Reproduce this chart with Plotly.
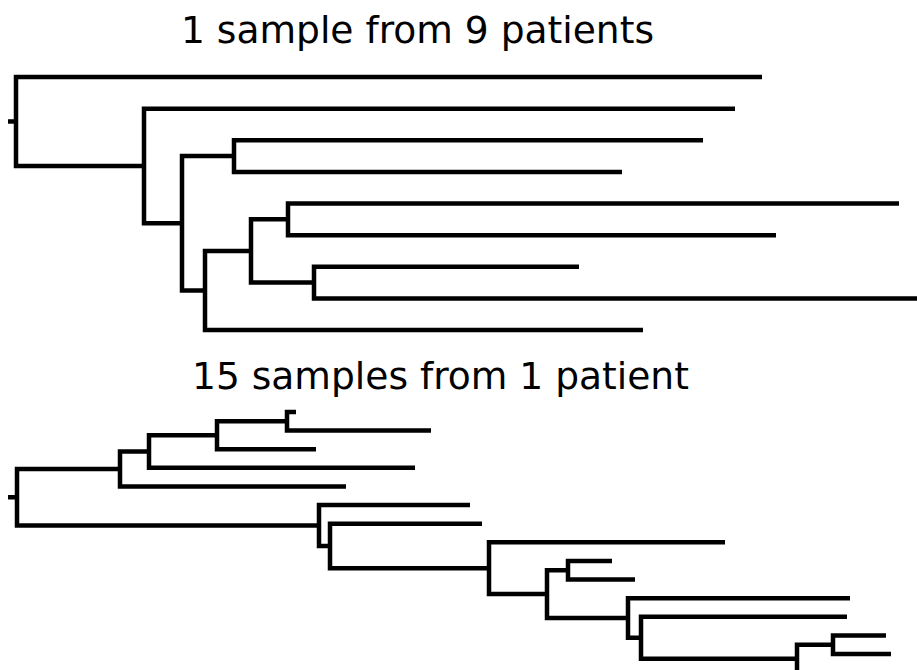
import plotly.graph_objects as go

W, H = 917, 670

# ---- Tree 1: one sample from each of 9 patients (preorder; parent index, branch length)
top_names = ["root", "A", "n1", "B", "n2", "n3", "C", "D", "n4", "n5", "n6", "E", "F", "n7", "G", "H", "I"]
top_parent = [-1, 0, 0, 2, 2, 4, 5, 5, 4, 8, 9, 10, 10, 9, 13, 13, 8]
top_branch = [0.08, 7.46, 1.28, 5.91, 0.38, 0.52, 4.69, 3.88, 0.23, 0.46, 0.37, 6.11, 4.88, 0.63, 2.65, 6.16, 4.38]

# ---- Tree 2: 15 samples from one patient
bottom_names = ["root", "p1", "p2", "p3", "p4", "s1", "s2", "s3", "s4", "s5", "q1", "s6", "q2", "s7", "q3",
                "s8", "r1", "r2", "s9", "s10", "r3", "s11", "r4", "s12", "r5", "r6", "s13", "s14", "s15"]
bottom_parent = [-1, 0, 1, 2, 3, 4, 4, 3, 2, 1, 0, 10, 10, 12, 12, 14, 14, 16, 17, 17, 16, 20, 20, 22, 22, 24, 25, 25, 24]
bottom_branch = [0.09, 1.03, 0.29, 0.68, 0.70, 0.09, 1.44, 0.99, 2.66, 2.26, 3.02, 1.51, 0.11, 1.52, 1.59,
                 2.36, 0.58, 0.21, 0.44, 0.67, 0.81, 2.22, 0.13, 2.06, 1.56, 0.36, 0.53, 0.58, 1.43]

titles = ["1 sample from 9 patients", "15 samples from 1 patient"]


def layout_tree(parent, branch):
    n = len(parent)
    children = [[] for _ in range(n)]
    for i, p in enumerate(parent):
        if p >= 0:
            children[p].append(i)
    x = [0.0] * n
    for i in range(n):
        x[i] = branch[i] + (x[parent[i]] if parent[i] >= 0 else 0.0)
    y = [0.0] * n
    k = 0
    for i in range(n):
        if not children[i]:
            k += 1
            y[i] = k
    for i in reversed(range(n)):
        if children[i]:
            y[i] = (y[children[i][0]] + y[children[i][-1]]) / 2
    return children, x, y


def tree_segments(parent, branch):
    children, x, y = layout_tree(parent, branch)
    xs = [0.0, x[0], None]
    ys = [y[0], y[0], None]
    for i in range(len(parent)):
        if children[i]:
            c1, c2 = children[i][0], children[i][-1]
            xs += [x[c1], x[i], x[i], x[c2], None]
            ys += [y[c1], y[c1], y[c2], y[c2], None]
    return xs, ys


fig = go.Figure()

# pixel layout of the two panels
X0, XS = 8.0, 100.0  # px of depth 0, px per unit depth
panels = [
    # (leaf1 px, leaf spacing px, domain top px, domain bottom px)
    (77.0, 31.625, 50.0, 352.0),
    (412.0, 18.615, 395.0, 670.0),
]

for k, (par, br) in enumerate([(top_parent, top_branch), (bottom_parent, bottom_branch)]):
    xs, ys = tree_segments(par, br)
    sfx = "" if k == 0 else str(k + 1)
    fig.add_trace(go.Scatter(x=xs, y=ys, mode="lines",
                             line=dict(color="black", width=4.5),
                             xaxis="x" + sfx, yaxis="y" + sfx,
                             hoverinfo="skip", showlegend=False))
    l1, sp, top, bot = panels[k]
    yr = [1 + (bot - l1) / sp, 1 + (top - l1) / sp]
    xr = [(0 - X0) / XS, (W - X0) / XS]
    ax = dict(range=xr, domain=[0, 1], visible=False, fixedrange=True)
    ay = dict(range=yr, domain=[(H - bot) / H, (H - top) / H], visible=False, fixedrange=True)
    if k == 0:
        fig.update_layout(xaxis=ax, yaxis=ay)
    else:
        ax["anchor"] = "y2"
        ay["anchor"] = "x2"
        fig.update_layout(xaxis2=ax, yaxis2=ay)

title_pos = [(417, 30), (440, 376)]
for t, (tx, ty) in zip(titles, title_pos):
    fig.add_annotation(text=t, x=tx / W, y=1 - ty / H, xref="paper", yref="paper",
                       xanchor="center", yanchor="middle", showarrow=False,
                       font=dict(family="DejaVu Sans", size=37.6, color="black"))

fig.update_layout(width=W, height=H, margin=dict(l=0, r=0, t=0, b=0),
                  paper_bgcolor="white", plot_bgcolor="white")

fig.write_html("out.html", config={"displayModeBar": False},
               post_script="document.body.style.margin='0';document.body.style.overflow='hidden';")
